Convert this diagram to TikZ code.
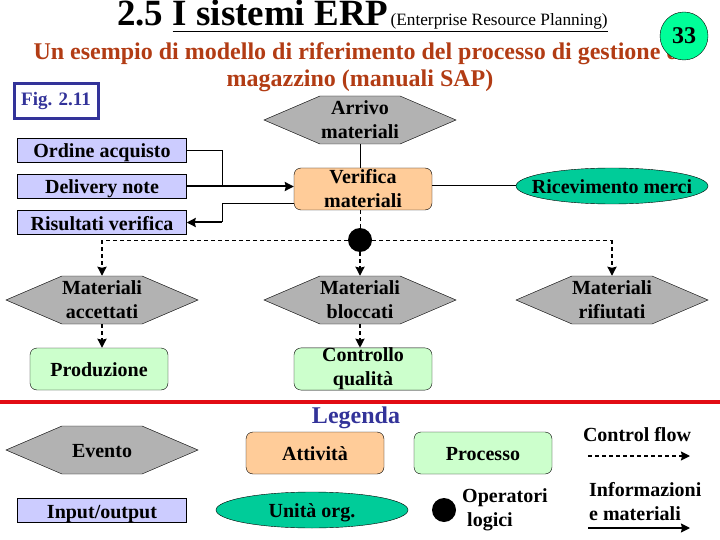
\documentclass[tikz,border=0pt]{standalone}
\usepackage{fontspec}
\setmainfont{Liberation Serif}
\usetikzlibrary{arrows.meta,shapes.geometric,shapes.symbols}
\definecolor{eventgray}{RGB}{178,178,178}
\definecolor{taskorange}{RGB}{255,204,153}
\definecolor{procgreen}{RGB}{204,255,204}
\definecolor{iolilac}{RGB}{204,204,255}
\definecolor{orgteal}{RGB}{0,204,153}
\definecolor{pagegreen}{RGB}{0,255,153}
\definecolor{slideblue}{RGB}{51,51,153}
\definecolor{subtitlered}{RGB}{178,60,20}
\definecolor{linered}{RGB}{226,12,20}
\tikzset{
    label text/.style={font=\fontsize{20}{24}\selectfont\bfseries, align=center},
    onerow/.style={text height=16pt, text depth=1pt},
    evento/.style={label text, draw, fill=eventgray, signal, signal to=east and west,
        signal pointer angle=46.4, minimum width=192pt, minimum height=48pt, inner sep=0pt},
    attivita/.style={label text, draw, rounded corners=7pt, minimum width=138pt, minimum height=42pt, inner sep=0pt},
    inout/.style={label text, onerow, draw, fill=iolilac, minimum width=169pt, minimum height=24pt, inner sep=0pt},
    unita/.style={label text, onerow, draw, ellipse, fill=orgteal, minimum width=192pt, minimum height=36pt,
        inner ysep=0pt, inner xsep=-14pt},
    oplogico/.style={circle, fill=black, minimum size=24pt, inner sep=0pt},
    info/.style={line width=1pt},
    infothick/.style={->, line width=2pt},
    flow/.style={dash pattern=on 4pt off 3pt, line width=1pt},
    flowthick/.style={->, dash pattern=on 4pt off 3pt, line width=2pt},
    >={Stealth[length=9pt,width=9pt,inset=1pt]}
}
\begin{document}
\begin{tikzpicture}[x=1pt, y=-1pt]
    \useasboundingbox (0,0) rectangle (720,540);
    % Titolo
    \node[anchor=base west, inner sep=0pt, font=\fontsize{37}{40}\selectfont\bfseries] (titolo) at (117,26)
        {2.5 \underline{I sistemi ERP\fontsize{17.3}{18}\selectfont\mdseries\hspace{2pt}(Enterprise Resource Planning)}};
    \node[anchor=base, inner sep=0pt, align=center, text=subtitlered, font=\fontsize{24}{27}\selectfont\bfseries] (sottotitolo) at (360,87)
        {Un esempio di modello di riferimento del processo di gestione di\hspace{10pt}\\magazzino (manuali SAP)};
    \node[circle, draw, fill=pagegreen, minimum size=48pt, inner sep=0pt, font=\fontsize{24}{24}\selectfont\bfseries] (pagina) at (684,36) {33};
    \node[draw=slideblue, line width=3pt, text=slideblue, minimum width=84pt, minimum height=35pt, inner sep=0pt,
        font=\fontsize{19}{24}\selectfont\bfseries] (figura) at (56,101.5) {Fig. 2.11};
    % Modello
    \node[evento] (arrivo) at (360,120) {Arrivo\\materiali};
    \node[inout] (ordine) at (102,150.5) {Ordine acquisto};
    \node[inout] (delivery) at (102,186.5) {Delivery note};
    \node[inout] (risultati) at (102,222.5) {Risultati verifica};
    \node[attivita, fill=taskorange] (verifica) at (363,189) {Verifica\\materiali};
    \node[unita] (ricevimento) at (612,186) {Ricevimento merci};
    \node[oplogico] (xor) at (360,240) {};
    \node[evento] (accettati) at (102,300) {Materiali\\accettati};
    \node[evento] (bloccati) at (360,300) {Materiali\\bloccati};
    \node[evento] (rifiutati) at (612,300) {Materiali\\rifiutati};
    \node[attivita, onerow, fill=procgreen] (produzione) at (99,369) {Produzione};
    \node[attivita, fill=procgreen] (controllo) at (363,369) {Controllo\\qualità};
    % Collegamenti
    \draw[info] (ordine.east) -- (222,150.5) -- (222,186.5);
    \draw[infothick] (delivery.east) -- (verifica.west |- delivery.east);
    \draw[info] (verifica.west |- 0,204) -- (222,204) -- (222,222.5);
    \draw[infothick] (222,222.5) -- (risultati.east);
    \draw[info] (arrivo.south) -- (arrivo.south |- verifica.north);
    \draw[info] (verifica.east |- ricevimento.west) -- (ricevimento.west);
    \draw[flow] (xor |- verifica.south) -- (xor.north);
    \draw[flowthick] (xor.south) -- (bloccati.north);
    \draw[flow] (xor.west) -- (accettati.north |- xor.west);
    \draw[flow] (xor.east) -- (rifiutati.north |- xor.east);
    \draw[flowthick] (accettati.north |- xor.west) -- (accettati.north);
    \draw[flowthick] (rifiutati.north |- xor.east) -- (rifiutati.north);
    \draw[flowthick] (accettati.south) -- (accettati.south |- produzione.north);
    \draw[flowthick] (bloccati.south) -- (bloccati.south |- controllo.north);
    % Legenda
    \draw[line width=4pt, linered] (0,402) -- (720,402);
    \node[text=slideblue, font=\fontsize{24}{24}\selectfont\bfseries, inner sep=0pt] (legenda) at (356,418) {Legenda};
    \node[evento, onerow] (l-evento) at (102,450) {Evento};
    \node[attivita, onerow, fill=taskorange] (l-attivita) at (315,453) {Attività};
    \node[attivita, onerow, fill=procgreen] (l-processo) at (483,453) {Processo};
    \node[inout] (l-io) at (102,510.5) {Input/output};
    \node[unita] (l-unita) at (312,510) {Unità org.};
    \node[oplogico] (l-op) at (444,510) {};
    \node[label text, anchor=west, align=left, inner sep=0pt] (l-optesto) at (462,509.5) {Operatori\\\hspace{5pt}logici};
    \node[label text, inner sep=0pt] (l-control) at (637,435) {Control flow};
    \node[label text, anchor=west, align=left, inner sep=0pt] (l-info) at (589,502) {Informazioni\\e materiali};
    \coordinate (c1) at (588,456);
    \coordinate (c2) at (690,456);
    \coordinate (i1) at (588,528);
    \coordinate (i2) at (690,528);
    \draw[->, dash pattern=on 4pt off 3pt, line width=1.6pt] (c1) -- (c2);
    \draw[->, line width=1.6pt] (i1) -- (i2);
\end{tikzpicture}
\end{document}
